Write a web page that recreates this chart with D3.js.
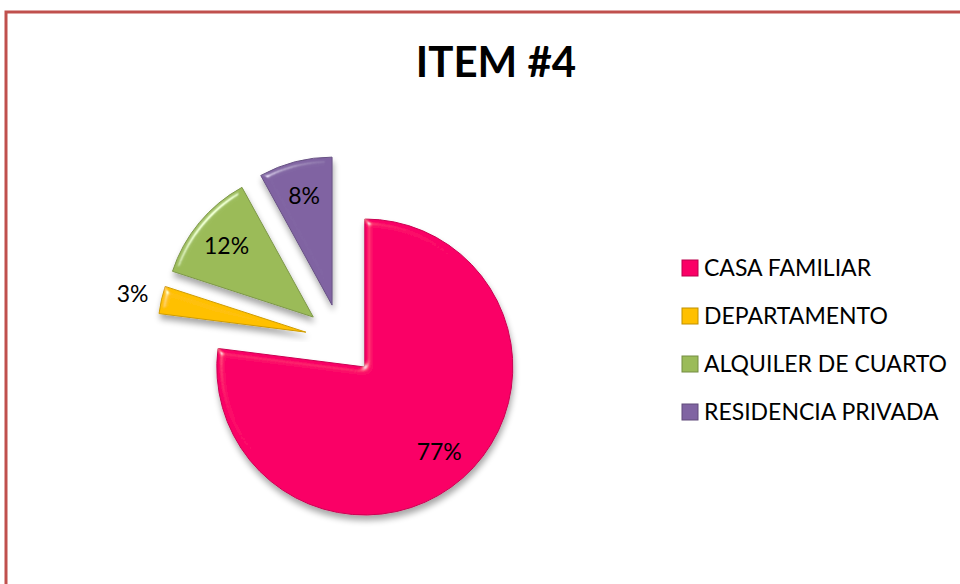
<!DOCTYPE html>
<html>
<head>
<meta charset="utf-8">
<script src="https://cdn.jsdelivr.net/npm/d3@7"></script>
<style>
  body { margin: 0; background: #fff; }
  text { font-family: Lato, "Open Sans", sans-serif; fill: #000; }
</style>
</head>
<body>
<script>
// data
var categories = ['CASA FAMILIAR', 'DEPARTAMENTO', 'ALQUILER DE CUARTO', 'RESIDENCIA PRIVADA'];
var values = [77, 3, 12, 8];
var colors = ['#fa0066', '#ffc000', '#9bbb59', '#8064a2'];
var title = 'ITEM #4';

var svgx = 960, svgy = 584;
var svg = d3.select('body').append('svg')
  .attr('width', svgx).attr('height', svgy);

// filters: bevel light + drop shadow
var defs = svg.append('defs');
var f = defs.append('filter').attr('id', 'bevel')
  .attr('x', '-20%').attr('y', '-20%').attr('width', '140%').attr('height', '140%');
f.append('feGaussianBlur').attr('in', 'SourceAlpha').attr('stdDeviation', 3).attr('result', 'blur');
f.append('feSpecularLighting').attr('in', 'blur').attr('surfaceScale', 4)
  .attr('specularConstant', 0.55).attr('specularExponent', 60)
  .attr('lighting-color', '#ffffff').attr('result', 'spec')
  .append('feDistantLight').attr('azimuth', 225).attr('elevation', 40);
f.append('feComposite').attr('in', 'spec').attr('in2', 'SourceAlpha').attr('operator', 'in').attr('result', 'specIn');
f.append('feComposite').attr('in', 'SourceGraphic').attr('in2', 'specIn')
  .attr('operator', 'arithmetic').attr('k1', 0).attr('k2', 1).attr('k3', 1).attr('k4', 0).attr('result', 'lit');
f.append('feGaussianBlur').attr('in', 'SourceAlpha').attr('stdDeviation', 3).attr('result', 'sblur');
f.append('feOffset').attr('in', 'sblur').attr('dx', 1).attr('dy', 5).attr('result', 'soff');
f.append('feComponentTransfer').attr('in', 'soff').attr('result', 'shadow')
  .append('feFuncA').attr('type', 'linear').attr('slope', 0.35);
var fm = f.append('feMerge');
fm.append('feMergeNode').attr('in', 'shadow');
fm.append('feMergeNode').attr('in', 'lit');

// border
svg.append('rect')
  .attr('x', 6).attr('y', 12).attr('width', 1000).attr('height', 700)
  .attr('fill', 'none').attr('stroke', '#c0504d').attr('stroke-width', 3);

// title
svg.append('text')
  .attr('x', 496).attr('y', 77)
  .attr('text-anchor', 'middle')
  .style('font-size', '42px').style('font-weight', 'bold')
  .text(title);

// pie
var cx = 341, cy = 340, radius = 148, explode = 36;
var total = d3.sum(values);
var pie = d3.pie().sort(null).value(function(d) { return d; });
var arc = d3.arc().innerRadius(0).outerRadius(radius);
var arcs = pie(values);

var g = svg.append('g').attr('transform', 'translate(' + cx + ',' + cy + ')');

var slices = g.selectAll('g.slice').data(arcs).enter()
  .append('g').attr('class', 'slice')
  .attr('transform', function(d) {
    var a = (d.startAngle + d.endAngle) / 2;
    return 'translate(' + (explode * Math.sin(a)) + ',' + (-explode * Math.cos(a)) + ')';
  });

slices.append('path')
  .attr('d', arc)
  .attr('fill', function(d, i) { return colors[i]; })
  .attr('stroke', function(d, i) { return d3.color(colors[i]).darker(0.6); })
  .attr('stroke-width', 1)
  .attr('filter', 'url(#bevel)');

slices.append('text')
  .attr('transform', function(d) {
    var a = (d.startAngle + d.endAngle) / 2;
    var pct = d.value / total;
    var r = pct < 0.05 ? radius * 1.2 : radius * 0.76;
    return 'translate(' + (r * Math.sin(a)) + ',' + (-r * Math.cos(a)) + ')';
  })
  .attr('text-anchor', 'middle')
  .attr('dy', '0.36em')
  .style('font-size', '23px')
  .text(function(d) { return Math.round(d.value / total * 100) + '%'; });

// legend
var legend = svg.append('g').attr('transform', 'translate(682,268)');
var items = legend.selectAll('g').data(categories).enter()
  .append('g').attr('transform', function(d, i) { return 'translate(0,' + (i * 48) + ')'; });
items.append('rect')
  .attr('x', 0).attr('y', -8).attr('width', 16).attr('height', 16)
  .attr('fill', function(d, i) { return colors[i]; })
  .attr('stroke', function(d, i) { return d3.color(colors[i]).darker(0.8); })
  .attr('stroke-width', 1);
items.append('text')
  .attr('x', 22).attr('y', 0).attr('dy', '0.36em')
  .style('font-size', '23px')
  .text(function(d) { return d; });
</script>
</body>
</html>
